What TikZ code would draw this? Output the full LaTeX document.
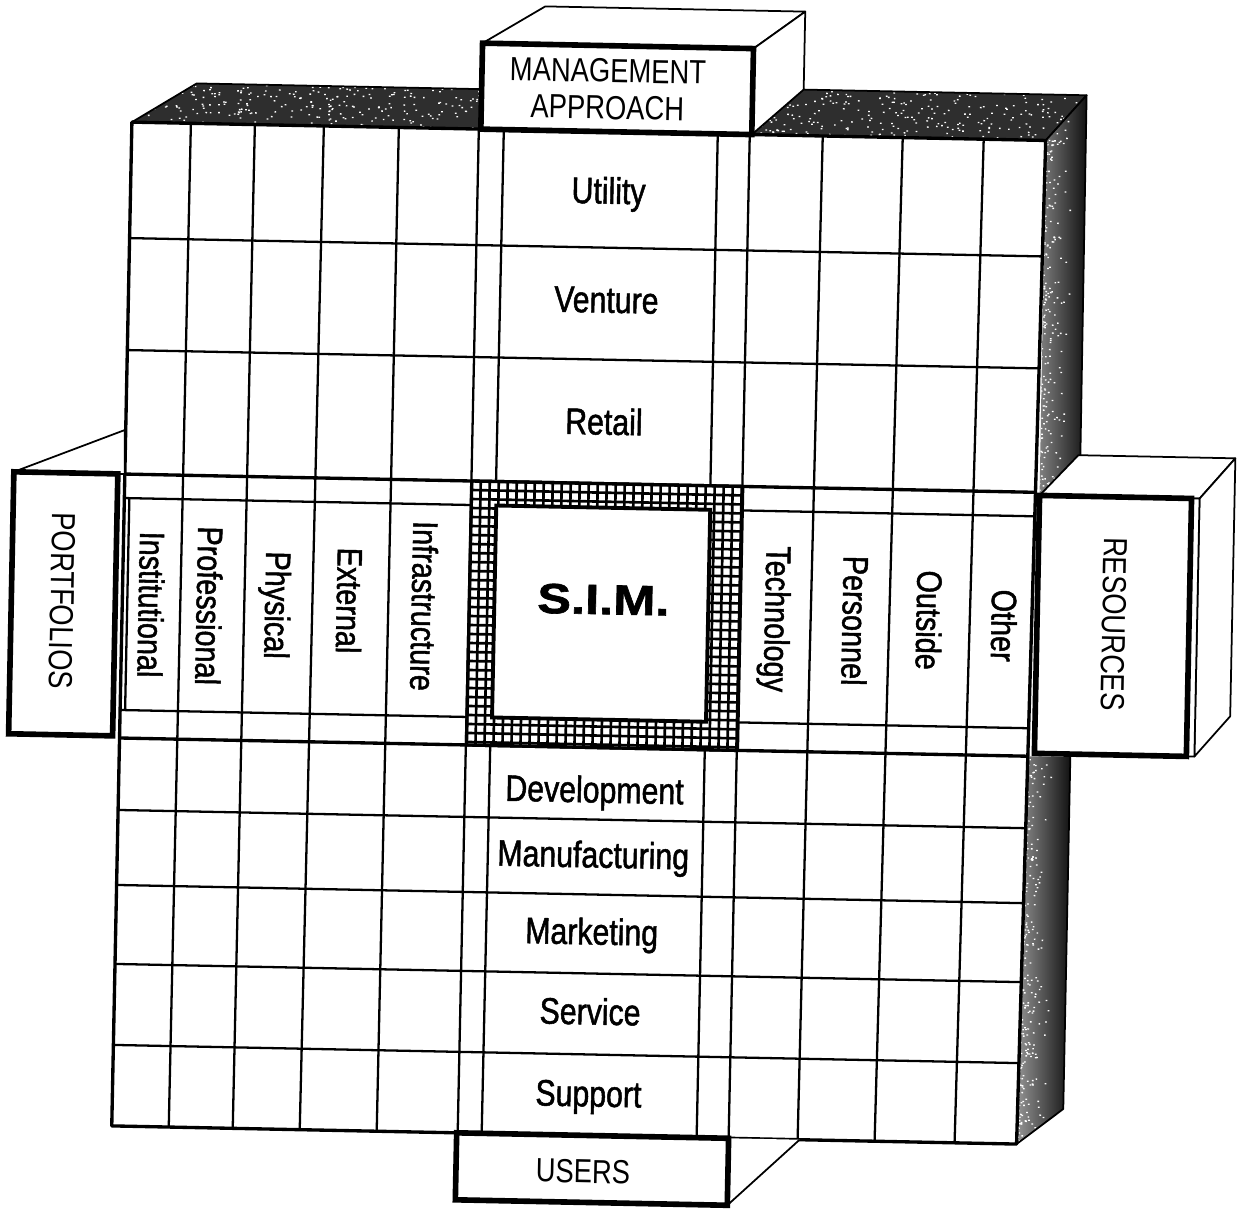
\documentclass[tikz,border=0pt]{standalone}
\usepackage{fontspec}
\newfontfamily\labelfont[FakeStretch=0.82]{Liberation Sans}
\newfontfamily\headfont[FakeStretch=0.82, FakeBold=1.3]{Liberation Sans}
\newfontfamily\simfont[FakeStretch=1.2, FakeBold=1.5]{Liberation Sans}
\begin{document}
\begin{tikzpicture}[x=0.02cm, y=-0.02cm,
  gridline/.style={line width=1.3pt},
  edgeline/.style={line width=1.9pt, line join=round},
  faceline/.style={line width=1pt, line join=round},
  boxborder/.style={line width=3.2pt, line join=miter},
  hatchline/.style={line width=1.5pt},
  toptone/.style={fill=black!82},
  sidetone/.style={left color=black!40, right color=black!95},
  rowlabel/.style={font=\headfont\fontsize{21}{24}\selectfont, inner sep=0pt, anchor=base},
  collabel/.style={font=\headfont\fontsize{20}{24}\selectfont, inner sep=0pt, rotate=-90},
  caplabel/.style={font=\labelfont\fontsize{19}{22}\selectfont, inner sep=0pt},
  simlabel/.style={font=\simfont\bfseries\fontsize{24}{28}\selectfont, inner sep=0pt}]

\useasboundingbox (0,0) rectangle (1237,1211);

\begin{scope}[rotate around={-1.15:(620,620)}, transform shape]

% ---- shaded top face of the slab (two parts either side of the top box)
\begin{scope}
  \clip (122,132) -- (186,92) -- (471,92) -- (471,132) -- cycle;
  \fill[toptone] (120,90) rectangle (472,134);
  \pgfmathsetseed{11}
  \foreach \k in {1,...,260}{
    \pgfmathsetmacro\sx{122+349*rnd}
    \pgfmathsetmacro\sy{92+40*rnd}
    \fill[white] (\sx,\sy) rectangle ++(1.7,1.3);
  }
\end{scope}
\draw[faceline] (122,132) -- (186,92) -- (471,92);

\begin{scope}
  \clip (742,132) -- (793,86) -- (1076,86) -- (1036,132) -- cycle;
  \fill[toptone] (740,84) rectangle (1078,134);
  \pgfmathsetseed{23}
  \foreach \k in {1,...,260}{
    \pgfmathsetmacro\sx{742+334*rnd}
    \pgfmathsetmacro\sy{86+46*rnd}
    \fill[white] (\sx,\sy) rectangle ++(1.7,1.3);
  }
\end{scope}
\draw[faceline] (793,86) -- (1076,86) -- (1036,132);

% ---- shaded right face of the slab, above and below the right box
\begin{scope}
  \clip (1036,132) -- (1076,86) -- (1077,446) -- (1037,488) -- cycle;
  \shade[sidetone] (1026,84) rectangle (1078,490);
  \pgfmathsetseed{37}
  \foreach \k in {1,...,300}{
    \pgfmathsetmacro\sx{1034+30*rnd*rnd}
    \pgfmathsetmacro\sy{86+402*rnd}
    \fill[white] (\sx,\sy) rectangle ++(1.7,1.3);
  }
\end{scope}
\draw[faceline] (1036,132) -- (1076,86) -- (1077,446);

\begin{scope}
  \clip (1031,748) -- (1073,748) -- (1073,1100) -- (1027,1136) -- cycle;
  \shade[sidetone] (1025,746) rectangle (1075,1138);
  \pgfmathsetseed{41}
  \foreach \k in {1,...,300}{
    \pgfmathsetmacro\sx{1027+30*rnd*rnd}
    \pgfmathsetmacro\sy{748+388*rnd}
    \fill[white] (\sx,\sy) rectangle ++(1.7,1.3);
  }
\end{scope}
\draw[faceline] (1073,748) -- (1073,1100) -- (1027,1136);

% ---- front face of the slab with its grid
\fill[white] (122,132) -- (1036,132) -- (1027,1136) -- (122,1136) -- cycle;
\begin{scope}
  \clip (122,132) -- (1036,132) -- (1027,1136) -- (122,1136) -- cycle;
  \foreach \hy in {248,360,508,720,820,895,974,1055}
    \draw[gridline] (100,\hy) -- (1100,\hy);
  \foreach \hy in {484,748}
    \draw[edgeline] (100,\hy) -- (1100,\hy);
\end{scope}
\foreach \xt/\xb in {181/179,245/243,314/310,389/387,469/468,494/492,708/707,740/739,813/808,893/885,974/965}
  \draw[gridline] (\xt,132) -- (\xb,1136);
\draw[gridline] (127,508) -- (127,720);
\draw[edgeline] (122,132) -- (1036,132) -- (1027,1136) -- (122,1136) -- cycle;

% ---- cross-hatched frame round the centre square
\begin{scope}
  \clip (469,484) rectangle (740,748);
  \fill[white] (469,484) rectangle (740,748);
  \foreach \hx in {469,478,...,742}
    \draw[hatchline] (\hx,484) -- (\hx,748);
  \foreach \hy in {484,493,...,750}
    \draw[hatchline] (469,\hy) -- (740,\hy);
\end{scope}
\draw[edgeline] (469,484) rectangle (740,748);
\draw[line width=2.2pt, fill=white] (494,508) rectangle (708,720);
\node[simlabel] (sim) at (603,600) {S.I.M.};

% ---- top box
\draw[faceline, fill=white] (471,46) -- (533,8) -- (793,8) -- (742,46) -- cycle;
\draw[faceline, fill=white] (742,46) -- (793,8) -- (793,86) -- (742,132) -- cycle;
\draw[boxborder, fill=white] (471,46) rectangle (742,132);
\node[caplabel] (mgmt) at (597,71) {MANAGEMENT};
\node[caplabel] (appr) at (597,108) {APPROACH};

% ---- left box
\draw[faceline, fill=white] (11,484) -- (121,440) -- (122,484) -- cycle;
\draw[boxborder, fill=white] (11,484) rectangle (115,746);
\node[caplabel, rotate=-90] (portf) at (62,612) {PORTFOLIOS};

% ---- right box
\draw[faceline, fill=white] (1037,487) -- (1075,446) -- (1232,446) -- (1197,487) -- cycle;
\draw[faceline, fill=white] (1197,487) -- (1232,446) -- (1232,704) -- (1197,745) -- cycle;
\fill[white] (1037,487) rectangle (1197,745);
\draw[faceline] (1189,487) -- (1197,487) -- (1197,745) -- (1189,745);
\draw[boxborder] (1037,487) rectangle (1189,745);
\node[caplabel, rotate=-90] (res) at (1114,614) {RESOURCES};

% ---- bottom box
\draw[faceline, fill=white] (739,1136) -- (739,1203) -- (810,1136);
\draw[boxborder, fill=white] (467,1136) rectangle (739,1203);
\node[caplabel] (users) at (594,1172) {USERS};

% ---- management approach rows
\node[rowlabel] (util) at (600,204) {Utility};
\node[rowlabel] (vent) at (600,313) {Venture};
\node[rowlabel] (retl) at (600,435) {Retail};

% ---- user rows
\node[rowlabel] (dev) at (598,803) {Development};
\node[rowlabel] (manu) at (598,868) {Manufacturing};
\node[rowlabel] (mark) at (598,945) {Marketing};
\node[rowlabel] (serv) at (598,1025) {Service};
\node[rowlabel] (supp) at (598,1107) {Support};

% ---- portfolio columns
\node[collabel] (inst) at (151,614) {Institutional};
\node[collabel] (prof) at (209,614) {Professional};
\node[collabel] (phys) at (274,612) {Physical};
\node[collabel] (extn) at (349,606) {External};
\node[collabel] (infr) at (424,610) {Infrastructure};

% ---- resource columns
\node[collabel] (tech) at (774,616) {Technology};
\node[collabel] (pers) at (855,616) {Personnel};
\node[collabel] (outs) at (929,614) {Outside};
\node[collabel] (othr) at (1004,618) {Other};

\end{scope}
\end{tikzpicture}
\end{document}
